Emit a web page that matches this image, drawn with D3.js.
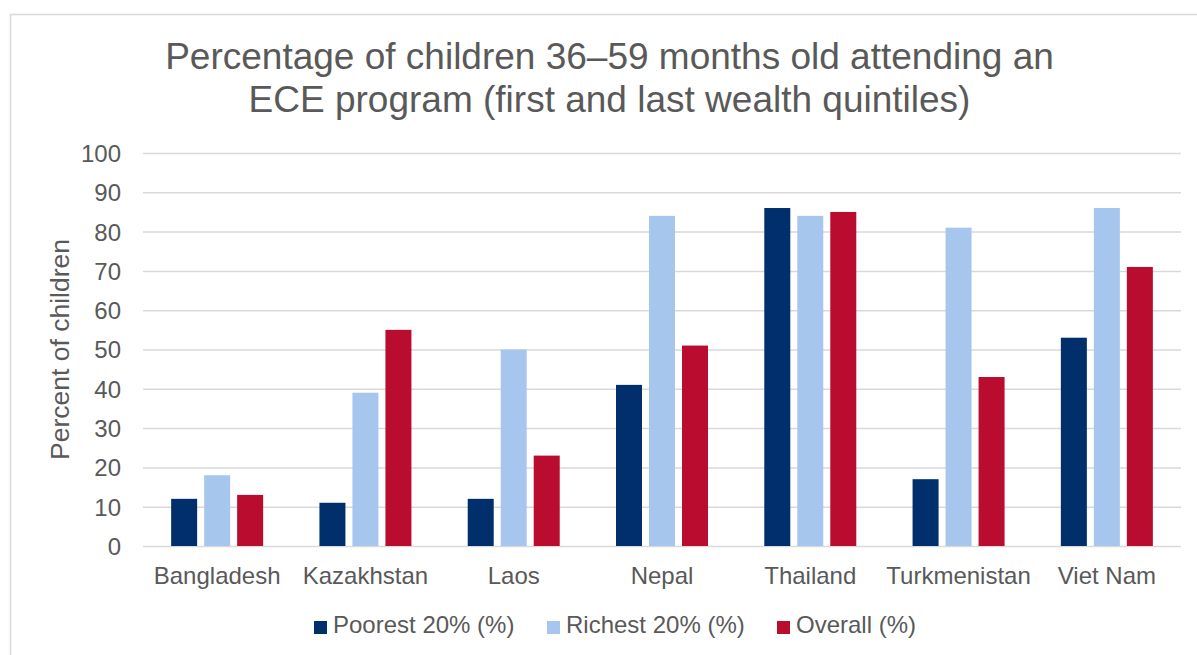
<!DOCTYPE html>
<html>
<head>
<meta charset="utf-8">
<script src="https://cdn.jsdelivr.net/npm/d3@7"></script>
<style>
  body { margin:0; background:#fff; }
  text { font-family: "Liberation Sans", Arial, sans-serif; fill:#595959; }
</style>
</head>
<body>
<div class="chart"></div>
<script>
// chart data
var categories = ["Bangladesh", "Kazakhstan", "Laos", "Nepal", "Thailand", "Turkmenistan", "Viet Nam"];
var seriesNames = ["Poorest 20% (%)", "Richest 20% (%)", "Overall (%)"];
var poorest = [12, 11, 12, 41, 86, 17, 53];
var richest = [18, 39, 50, 84, 84, 81, 86];
var overall = [13, 55, 23, 51, 85, 43, 71];
var yTicks = [0, 10, 20, 30, 40, 50, 60, 70, 80, 90, 100];
var titleLines = ["Percentage of children 36\u201359 months old attending an", "ECE program (first and last wealth quintiles)"];
var yLabel = "Percent of children";

var colors = ["#002f6c", "#a7c6ed", "#ba0c2f"];
var values = { width:1197, height:655, left:143, right:1181, top:153, bottom:546 };

var data = categories.map(function (c, i) {
  return { cat: c, vals: [poorest[i], richest[i], overall[i]] };
});

var svg = d3.select('.chart')
  .append('svg')
  .attr("width", values.width)
  .attr("height", values.height);

// chart frame
svg.append("rect")
  .attr("x", 10.5).attr("y", 14.5)
  .attr("width", 1210).attr("height", 700)
  .attr("fill", "none")
  .attr("stroke", "#d9d9d9")
  .attr("stroke-width", 1.5);

// title
svg.append("text")
  .attr("x", 609.5)
  .attr("y", 69)
  .style("font-size", "37px")
  .style("text-anchor", "middle")
  .selectAll("tspan")
  .data(titleLines)
  .enter()
  .append("tspan")
  .attr("x", 609.5)
  .attr("dy", function (d, i) { return i === 0 ? 0 : 43; })
  .text(function (d) { return d; });

var x0 = d3.scaleBand()
  .domain(categories)
  .range([values.left, values.right]);

var groupW = 92;
var x1 = d3.scaleBand()
  .domain(seriesNames)
  .range([0, groupW])
  .paddingInner(7 / 33);

var y = d3.scaleLinear()
  .domain([0, 100])
  .range([values.bottom, values.top]);

// gridlines + y labels
var yAxis = d3.axisLeft(y)
  .tickValues(yTicks)
  .tickSize(-(values.right - values.left))
  .tickPadding(22);

var gy = svg.append("g")
  .attr("transform", "translate(" + values.left + ",0)")
  .call(yAxis);
gy.select(".domain").remove();
gy.selectAll(".tick line").attr("stroke", "#d9d9d9").attr("stroke-width", 1.5);
gy.selectAll(".tick text")
  .style("font-size", "24px")
  .style("font-family", "'Liberation Sans', Arial, sans-serif")
  .attr("fill", "#595959")
  .attr("dy", "0.35em");

// x labels
var xAxis = d3.axisBottom(x0).tickSize(0).tickPadding(0);
var gx = svg.append("g")
  .attr("transform", "translate(0," + values.bottom + ")")
  .call(xAxis);
gx.select(".domain").remove();
gx.selectAll(".tick text")
  .style("font-size", "24px")
  .style("font-family", "'Liberation Sans', Arial, sans-serif")
  .attr("fill", "#595959")
  .attr("dy", null)
  .attr("y", 38);

// bars
var groups = svg.selectAll("g.group")
  .data(data)
  .enter()
  .append("g")
  .attr("class", "group")
  .attr("transform", function (d) {
    return "translate(" + (x0(d.cat) + (x0.bandwidth() - groupW) / 2) + ",0)";
  });

groups.selectAll("rect")
  .data(function (d) { return d.vals.map(function (v, i) { return { s: seriesNames[i], v: v, i: i }; }); })
  .enter()
  .append("rect")
  .attr("x", function (d) { return x1(d.s); })
  .attr("y", function (d) { return y(d.v); })
  .attr("width", x1.bandwidth())
  .attr("height", function (d) { return y(0) - y(d.v); })
  .style("fill", function (d) { return colors[d.i]; });

// y axis title
svg.append("text")
  .attr("transform", "translate(69," + ((values.top + values.bottom) / 2) + ") rotate(-90)")
  .style("font-size", "26.5px")
  .style("text-anchor", "middle")
  .text(yLabel);

// legend
var legendX = [314, 547, 777];
var legend = svg.selectAll("g.legend")
  .data(seriesNames)
  .enter()
  .append("g")
  .attr("class", "legend")
  .attr("transform", function (d, i) { return "translate(" + legendX[i] + ",621)"; });

legend.append("rect")
  .attr("width", 13)
  .attr("height", 13)
  .style("fill", function (d, i) { return colors[i]; });

legend.append("text")
  .attr("x", 19)
  .attr("y", 12)
  .style("font-size", "24px")
  .text(function (d) { return d; });
</script>
</body>
</html>
